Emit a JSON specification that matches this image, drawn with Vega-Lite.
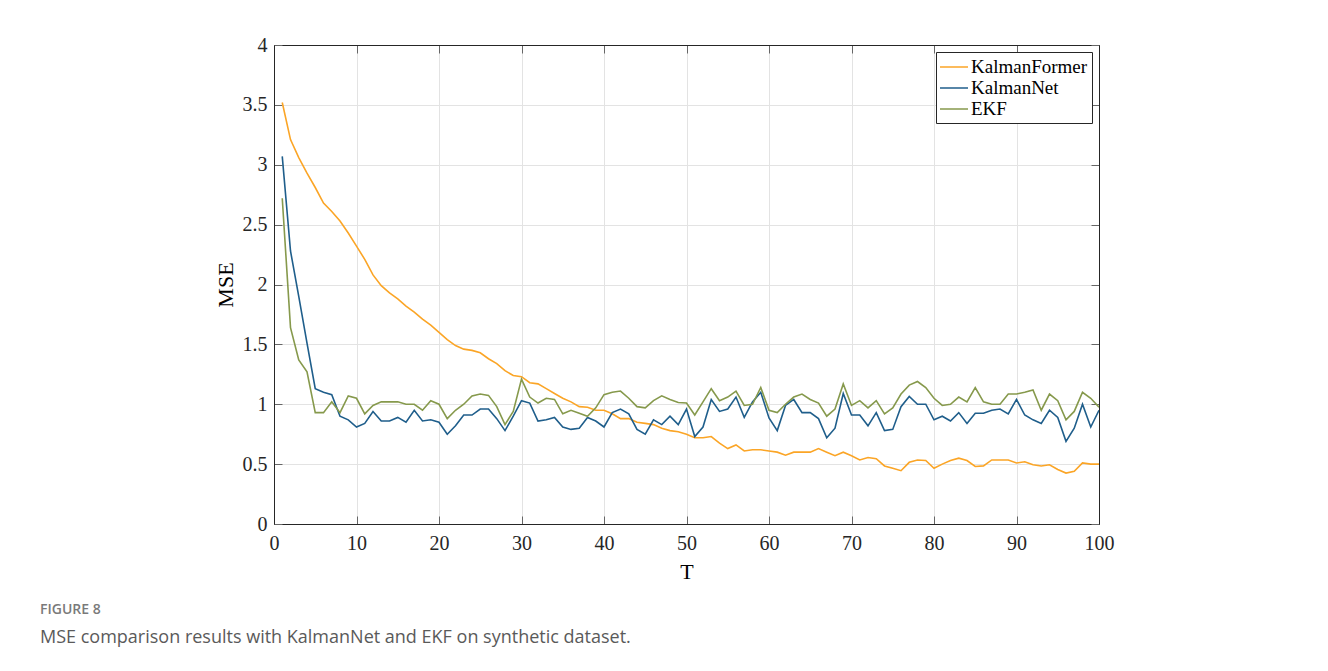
{
  "$schema": "https://vega.github.io/schema/vega-lite/v6.json",
  "width": 825,
  "height": 479,
  "autosize": "none",
  "padding": {"left": 274, "top": 45, "right": 229, "bottom": 147},
  "background": "white",
  "config": {
    "view": {"stroke": "#262626", "strokeWidth": 1},
    "font": "Liberation Serif",
    "axis": {"labelFont": "Liberation Serif", "titleFont": "Liberation Serif"}
  },
  "title": {
    "text": "FIGURE 8",
    "subtitle": "MSE comparison results with KalmanNet and EKF on synthetic dataset.",
    "orient": "bottom",
    "anchor": "start",
    "frame": "group",
    "dx": -234,
    "offset": 21,
    "font": "Open Sans",
    "fontSize": 14,
    "fontWeight": 600,
    "color": "#7a7a7a",
    "subtitleFont": "Open Sans",
    "subtitleFontSize": 18,
    "subtitleColor": "#5a5a5a",
    "subtitlePadding": 12
  },
  "data": {
    "values": [
      {"T":1,"KalmanFormer":3.52,"KalmanNet":3.07,"EKF":2.72},
      {"T":2,"KalmanFormer":3.21,"KalmanNet":2.28,"EKF":1.64},
      {"T":3,"KalmanFormer":3.06,"KalmanNet":1.90,"EKF":1.37},
      {"T":4,"KalmanFormer":2.93,"KalmanNet":1.51,"EKF":1.27},
      {"T":5,"KalmanFormer":2.81,"KalmanNet":1.13,"EKF":0.93},
      {"T":6,"KalmanFormer":2.68,"KalmanNet":1.10,"EKF":0.93},
      {"T":7,"KalmanFormer":2.61,"KalmanNet":1.08,"EKF":1.02},
      {"T":8,"KalmanFormer":2.53,"KalmanNet":0.90,"EKF":0.93},
      {"T":9,"KalmanFormer":2.43,"KalmanNet":0.87,"EKF":1.07},
      {"T":10,"KalmanFormer":2.32,"KalmanNet":0.81,"EKF":1.05},
      {"T":11,"KalmanFormer":2.21,"KalmanNet":0.84,"EKF":0.92},
      {"T":12,"KalmanFormer":2.08,"KalmanNet":0.94,"EKF":0.99},
      {"T":13,"KalmanFormer":1.99,"KalmanNet":0.86,"EKF":1.02},
      {"T":14,"KalmanFormer":1.93,"KalmanNet":0.86,"EKF":1.02},
      {"T":15,"KalmanFormer":1.88,"KalmanNet":0.89,"EKF":1.02},
      {"T":16,"KalmanFormer":1.82,"KalmanNet":0.85,"EKF":1.00},
      {"T":17,"KalmanFormer":1.77,"KalmanNet":0.95,"EKF":1.00},
      {"T":18,"KalmanFormer":1.71,"KalmanNet":0.86,"EKF":0.95},
      {"T":19,"KalmanFormer":1.66,"KalmanNet":0.87,"EKF":1.03},
      {"T":20,"KalmanFormer":1.60,"KalmanNet":0.85,"EKF":1.00},
      {"T":21,"KalmanFormer":1.54,"KalmanNet":0.75,"EKF":0.88},
      {"T":22,"KalmanFormer":1.49,"KalmanNet":0.82,"EKF":0.95},
      {"T":23,"KalmanFormer":1.46,"KalmanNet":0.91,"EKF":1.00},
      {"T":24,"KalmanFormer":1.45,"KalmanNet":0.91,"EKF":1.07},
      {"T":25,"KalmanFormer":1.43,"KalmanNet":0.96,"EKF":1.085},
      {"T":26,"KalmanFormer":1.38,"KalmanNet":0.96,"EKF":1.074},
      {"T":27,"KalmanFormer":1.34,"KalmanNet":0.88,"EKF":0.98},
      {"T":28,"KalmanFormer":1.28,"KalmanNet":0.78,"EKF":0.83},
      {"T":29,"KalmanFormer":1.24,"KalmanNet":0.90,"EKF":0.94},
      {"T":30,"KalmanFormer":1.23,"KalmanNet":1.03,"EKF":1.21},
      {"T":31,"KalmanFormer":1.18,"KalmanNet":1.01,"EKF":1.06},
      {"T":32,"KalmanFormer":1.17,"KalmanNet":0.86,"EKF":1.01},
      {"T":33,"KalmanFormer":1.13,"KalmanNet":0.87,"EKF":1.05},
      {"T":34,"KalmanFormer":1.09,"KalmanNet":0.89,"EKF":1.04},
      {"T":35,"KalmanFormer":1.05,"KalmanNet":0.81,"EKF":0.92},
      {"T":36,"KalmanFormer":1.02,"KalmanNet":0.79,"EKF":0.95},
      {"T":37,"KalmanFormer":0.98,"KalmanNet":0.80,"EKF":0.925},
      {"T":38,"KalmanFormer":0.975,"KalmanNet":0.89,"EKF":0.90},
      {"T":39,"KalmanFormer":0.95,"KalmanNet":0.86,"EKF":0.97},
      {"T":40,"KalmanFormer":0.95,"KalmanNet":0.81,"EKF":1.08},
      {"T":41,"KalmanFormer":0.92,"KalmanNet":0.93,"EKF":1.10},
      {"T":42,"KalmanFormer":0.88,"KalmanNet":0.96,"EKF":1.11},
      {"T":43,"KalmanFormer":0.88,"KalmanNet":0.92,"EKF":1.05},
      {"T":44,"KalmanFormer":0.85,"KalmanNet":0.79,"EKF":0.98},
      {"T":45,"KalmanFormer":0.84,"KalmanNet":0.75,"EKF":0.97},
      {"T":46,"KalmanFormer":0.83,"KalmanNet":0.87,"EKF":1.03},
      {"T":47,"KalmanFormer":0.80,"KalmanNet":0.83,"EKF":1.07},
      {"T":48,"KalmanFormer":0.78,"KalmanNet":0.90,"EKF":1.04},
      {"T":49,"KalmanFormer":0.77,"KalmanNet":0.83,"EKF":1.015},
      {"T":50,"KalmanFormer":0.75,"KalmanNet":0.96,"EKF":1.01},
      {"T":51,"KalmanFormer":0.72,"KalmanNet":0.73,"EKF":0.91},
      {"T":52,"KalmanFormer":0.72,"KalmanNet":0.81,"EKF":1.02},
      {"T":53,"KalmanFormer":0.73,"KalmanNet":1.04,"EKF":1.13},
      {"T":54,"KalmanFormer":0.675,"KalmanNet":0.94,"EKF":1.03},
      {"T":55,"KalmanFormer":0.63,"KalmanNet":0.96,"EKF":1.06},
      {"T":56,"KalmanFormer":0.66,"KalmanNet":1.06,"EKF":1.11},
      {"T":57,"KalmanFormer":0.61,"KalmanNet":0.89,"EKF":0.99},
      {"T":58,"KalmanFormer":0.62,"KalmanNet":1.02,"EKF":1.00},
      {"T":59,"KalmanFormer":0.62,"KalmanNet":1.10,"EKF":1.14},
      {"T":60,"KalmanFormer":0.61,"KalmanNet":0.885,"EKF":0.95},
      {"T":61,"KalmanFormer":0.60,"KalmanNet":0.78,"EKF":0.93},
      {"T":62,"KalmanFormer":0.575,"KalmanNet":0.99,"EKF":1.00},
      {"T":63,"KalmanFormer":0.60,"KalmanNet":1.04,"EKF":1.06},
      {"T":64,"KalmanFormer":0.60,"KalmanNet":0.93,"EKF":1.085},
      {"T":65,"KalmanFormer":0.60,"KalmanNet":0.93,"EKF":1.04},
      {"T":66,"KalmanFormer":0.63,"KalmanNet":0.88,"EKF":1.01},
      {"T":67,"KalmanFormer":0.60,"KalmanNet":0.72,"EKF":0.90},
      {"T":68,"KalmanFormer":0.57,"KalmanNet":0.80,"EKF":0.96},
      {"T":69,"KalmanFormer":0.60,"KalmanNet":1.09,"EKF":1.17},
      {"T":70,"KalmanFormer":0.57,"KalmanNet":0.91,"EKF":0.99},
      {"T":71,"KalmanFormer":0.535,"KalmanNet":0.91,"EKF":1.03},
      {"T":72,"KalmanFormer":0.555,"KalmanNet":0.82,"EKF":0.97},
      {"T":73,"KalmanFormer":0.545,"KalmanNet":0.93,"EKF":1.03},
      {"T":74,"KalmanFormer":0.485,"KalmanNet":0.78,"EKF":0.92},
      {"T":75,"KalmanFormer":0.465,"KalmanNet":0.79,"EKF":0.97},
      {"T":76,"KalmanFormer":0.445,"KalmanNet":0.98,"EKF":1.085},
      {"T":77,"KalmanFormer":0.515,"KalmanNet":1.065,"EKF":1.16},
      {"T":78,"KalmanFormer":0.535,"KalmanNet":1.00,"EKF":1.19},
      {"T":79,"KalmanFormer":0.53,"KalmanNet":1.00,"EKF":1.14},
      {"T":80,"KalmanFormer":0.465,"KalmanNet":0.87,"EKF":1.05},
      {"T":81,"KalmanFormer":0.50,"KalmanNet":0.90,"EKF":0.99},
      {"T":82,"KalmanFormer":0.53,"KalmanNet":0.86,"EKF":1.00},
      {"T":83,"KalmanFormer":0.55,"KalmanNet":0.93,"EKF":1.06},
      {"T":84,"KalmanFormer":0.53,"KalmanNet":0.84,"EKF":1.02},
      {"T":85,"KalmanFormer":0.48,"KalmanNet":0.925,"EKF":1.14},
      {"T":86,"KalmanFormer":0.485,"KalmanNet":0.925,"EKF":1.02},
      {"T":87,"KalmanFormer":0.535,"KalmanNet":0.95,"EKF":1.00},
      {"T":88,"KalmanFormer":0.535,"KalmanNet":0.96,"EKF":1.00},
      {"T":89,"KalmanFormer":0.535,"KalmanNet":0.92,"EKF":1.085},
      {"T":90,"KalmanFormer":0.51,"KalmanNet":1.04,"EKF":1.085},
      {"T":91,"KalmanFormer":0.52,"KalmanNet":0.91,"EKF":1.10},
      {"T":92,"KalmanFormer":0.495,"KalmanNet":0.87,"EKF":1.12},
      {"T":93,"KalmanFormer":0.485,"KalmanNet":0.84,"EKF":0.95},
      {"T":94,"KalmanFormer":0.495,"KalmanNet":0.95,"EKF":1.085},
      {"T":95,"KalmanFormer":0.455,"KalmanNet":0.89,"EKF":1.03},
      {"T":96,"KalmanFormer":0.425,"KalmanNet":0.69,"EKF":0.87},
      {"T":97,"KalmanFormer":0.44,"KalmanNet":0.80,"EKF":0.94},
      {"T":98,"KalmanFormer":0.51,"KalmanNet":1.00,"EKF":1.10},
      {"T":99,"KalmanFormer":0.50,"KalmanNet":0.81,"EKF":1.05},
      {"T":100,"KalmanFormer":0.50,"KalmanNet":0.95,"EKF":0.975}
    ]
  },
  "transform": [{"fold": ["KalmanFormer", "KalmanNet", "EKF"], "as": ["model", "MSE"]}],
  "resolve": {"axis": {"x": "independent", "y": "independent"}},
  "layer": [
    {
      "mark": {"type": "line", "strokeWidth": 1.6, "clip": true},
      "encoding": {
        "x": {
          "field": "T", "type": "quantitative",
          "scale": {"domain": [0, 100], "nice": false},
          "axis": {
            "orient": "bottom", "title": "T", "values": [0,10,20,30,40,50,60,70,80,90,100], "format": "d", "labelFlush": false,
            "titleFont": "Liberation Serif", "titleFontSize": 22, "titleFontWeight": "normal", "titleColor": "#000", "titlePadding": 8,
            "labelFont": "Liberation Serif", "labelFontSize": 20, "labelColor": "#262626", "labelPadding": 17,
            "tickSize": -8, "tickColor": "#666", "domainColor": "#262626",
            "grid": true, "gridColor": "#e3e3e3", "gridWidth": 1
          }
        },
        "y": {
          "field": "MSE", "type": "quantitative",
          "scale": {"domain": [0, 4], "nice": false},
          "axis": {
            "orient": "left", "title": "MSE", "values": [0,0.5,1,1.5,2,2.5,3,3.5,4], "format": "~g", "labelFlush": false,
            "titleFont": "Liberation Serif", "titleFontSize": 22, "titleFontWeight": "normal", "titleColor": "#000", "titlePadding": 5,
            "labelFont": "Liberation Serif", "labelFontSize": 20, "labelColor": "#262626", "labelPadding": 15,
            "tickSize": -8, "tickColor": "#666", "domainColor": "#262626",
            "grid": true, "gridColor": "#e3e3e3", "gridWidth": 1
          }
        },
        "color": {
          "field": "model", "type": "nominal",
          "scale": {"domain": ["KalmanFormer", "KalmanNet", "EKF"], "range": ["#FBA526", "#1F5E8B", "#86994C"]},
          "legend": {
            "title": null, "orient": "top-right", "offset": 7,
            "symbolType": "M-1.4,0H1.4", "symbolSize": 400, "symbolStrokeWidth": 1.5, "symbolOffset": 3,
            "labelFont": "Liberation Serif", "labelFontSize": 19, "labelColor": "#000", "labelOffset": 6,
            "rowPadding": 0, "padding": 4,
            "strokeColor": "#262626", "fillColor": "white", "cornerRadius": 0
          }
        }
      }
    },
    {
      "mark": {"type": "line", "strokeOpacity": 0},
      "encoding": {
        "x": {
          "field": "T", "type": "quantitative",
          "scale": {"domain": [0, 100], "nice": false},
          "axis": {"orient": "top", "title": null, "labels": false, "values": [0,10,20,30,40,50,60,70,80,90,100], "tickSize": -8, "tickColor": "#666", "domainColor": "#262626", "grid": false}
        },
        "y": {
          "field": "MSE", "type": "quantitative",
          "scale": {"domain": [0, 4], "nice": false},
          "axis": {"orient": "right", "title": null, "labels": false, "values": [0,0.5,1,1.5,2,2.5,3,3.5,4], "tickSize": -8, "tickColor": "#666", "domainColor": "#262626", "grid": false}
        },
        "detail": {"field": "model", "type": "nominal"}
      }
    }
  ]
}
